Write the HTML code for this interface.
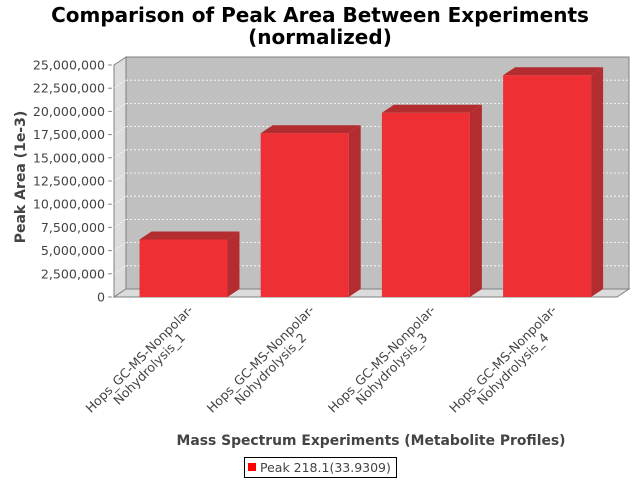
<!DOCTYPE html>
<html><head><meta charset="utf-8"><style>
html,body{margin:0;padding:0;background:#fff;}
svg{display:block;font-family:"DejaVu Sans","Liberation Sans",sans-serif;}
</style></head><body>
<svg id="chart" width="640" height="480" viewBox="0 0 640 480">
<text x="320" y="22" text-anchor="middle" font-size="20" font-weight="bold" fill="#000">Comparison of Peak Area Between Experiments</text>
<text x="320" y="44" text-anchor="middle" font-size="20" font-weight="bold" fill="#000">(normalized)</text>
<g id="plot"></g>
<text transform="translate(25,177) rotate(-90)" text-anchor="middle" font-size="14" font-weight="bold" fill="#444">Peak Area (1e-3)</text>
<text x="371" y="445" text-anchor="middle" font-size="13.9" font-weight="bold" fill="#444">Mass Spectrum Experiments (Metabolite Profiles)</text>
<g>
<rect x="244.5" y="457.5" width="152" height="20" fill="#fff" stroke="#000"/>
<rect x="248" y="463" width="8" height="8" fill="#ff0000"/>
<text x="260" y="472" font-size="12.5" fill="#444">Peak 218.1(33.9309)</text>
</g>
</svg>
<script>
const categories = ["Hops_GC-MS-Nonpolar-|Nohydrolysis_1","Hops_GC-MS-Nonpolar-|Nohydrolysis_2","Hops_GC-MS-Nonpolar-|Nohydrolysis_3","Hops_GC-MS-Nonpolar-|Nohydrolysis_4"];
const values = [6200000, 17650000, 19850000, 23900000];
const yTicks = [0,2500000,5000000,7500000,10000000,12500000,15000000,17500000,20000000,22500000,25000000];
const yMax = 25000000;

const NS="http://www.w3.org/2000/svg";
const g=document.getElementById('plot');
function el(t,a){const e=document.createElementNS(NS,t);for(const k in a)e.setAttribute(k,a[k]);g.appendChild(e);return e;}
const X0=114,X1=617,Y0=297,Y1=65,DX=12,DY=-8;
function y(v){return Y0-(v/yMax)*(Y0-Y1);}
const bw=88, step=121.2, first=183.5;
function xc(i){return first+step*i;}

let e=el('polygon',{points:`${X0+DX},${Y1+DY} ${X1+DX},${Y1+DY} ${X1+DX},${Y0+DY} ${X0+DX},${Y0+DY}`,fill:'#c0c0c0',stroke:'#808080'});

e=el('polygon',{points:`${X0},${Y0} ${X0+DX},${Y0+DY} ${X0+DX},${Y1+DY} ${X0},${Y1}`,fill:'#dcdcdc',stroke:'#808080'});

e=el('polygon',{points:`${X0},${Y0} ${X1},${Y0} ${X1+DX},${Y0+DY} ${X0+DX},${Y0+DY}`,fill:'#dcdcdc',stroke:'#808080'});


yTicks.forEach((t,i)=>{
  const yy=y(t);
  if(t>0 && t<yMax){
    let gl=el('line',{x1:X0+DX,x2:X1+DX,y1:yy+DY,y2:yy+DY,stroke:'#fff','stroke-width':0.8,'stroke-dasharray':'2,2'});
    
    let gl2=el('line',{x1:X0,x2:X0+DX,y1:yy,y2:yy+DY,stroke:'#fff','stroke-width':0.8,'stroke-dasharray':'2,2'});
    
  }
  let tk=el('line',{x1:X0-6,x2:X0-2,y1:yy,y2:yy,stroke:'#888'});
  
  let tl=el('text',{x:X0-9,y:yy+4.5,'text-anchor':'end','font-size':12.6,fill:'#444'});
  tl.textContent=t.toLocaleString('en-US');
  
});
let ax=el('line',{x1:X0,x2:X0,y1:Y1,y2:Y0,stroke:'#808080'});


values.forEach((v,i)=>{
  const l=xc(i)-bw/2,r=l+bw,t=y(v);
  let top=el('polygon',{points:`${l},${t} ${l+DX},${t+DY} ${r+DX},${t+DY} ${r},${t}`,fill:'#b32c2f'});
  
  let side=el('polygon',{points:`${r},${t} ${r+DX},${t+DY} ${r+DX},${Y0+DY} ${r},${Y0}`,fill:'#b32c2f'});
  
  let b=el('rect',{x:l,y:t,width:bw,height:Y0-t,fill:'#ee2f33'});
  
  const parts=categories[i].split('|');
  const ex=xc(i)+7, ey=314;
  const tg=document.createElementNS(NS,'g');
  tg.setAttribute('transform',`translate(${ex},${ey}) rotate(-45)`);
  
  
  parts.forEach((p,j)=>{
    const tx=document.createElementNS(NS,'text');
    tx.setAttribute('x',-68);tx.setAttribute('y',j*14);
    tx.setAttribute('text-anchor','middle');tx.setAttribute('font-size',12.6);tx.setAttribute('fill','#444');
    tx.textContent=p;
    
    
    tg.appendChild(tx);
  });
  g.appendChild(tg);
});
</script>
</body></html>
